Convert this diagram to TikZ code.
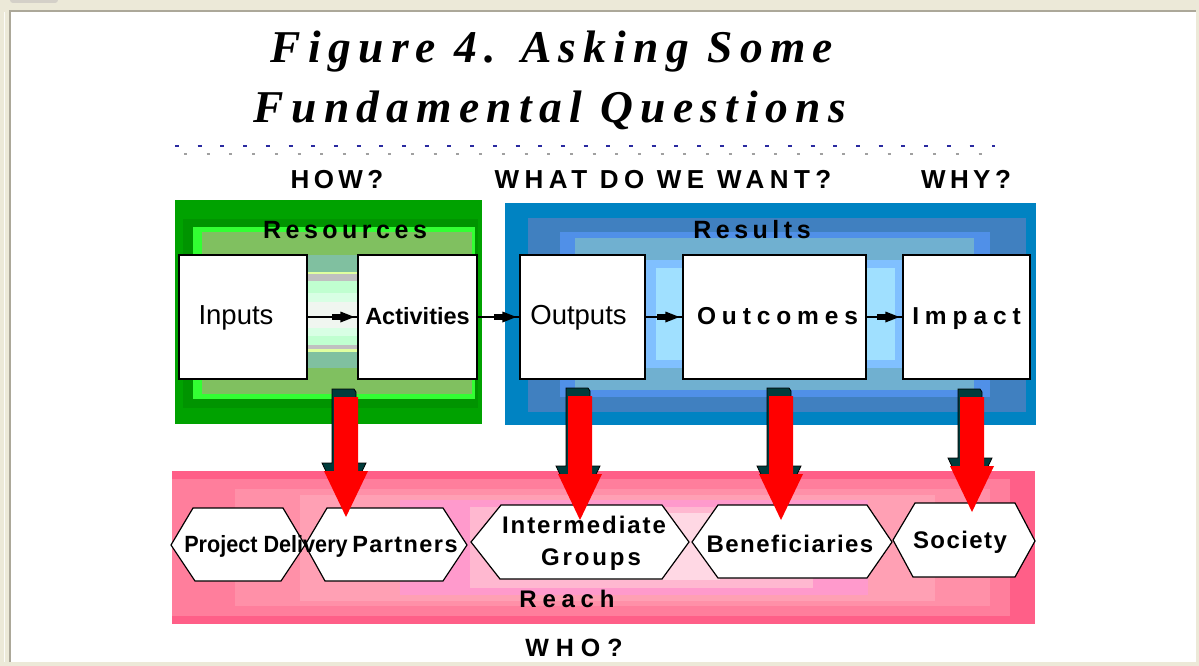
\documentclass[tikz,border=0pt]{standalone}
\usepackage{fontspec}
\setmainfont{Liberation Sans}
\newfontfamily\titlefont{Liberation Serif}
\usetikzlibrary{decorations.markings,calc}

% palette
\definecolor{framebg}{HTML}{ECE9D8}
\definecolor{framedark}{HTML}{ACA899}
\definecolor{tabgrey}{HTML}{D4D0C8}
\definecolor{dotblue}{HTML}{2A2AA0}
\definecolor{dotgrey}{HTML}{A0A0A0}
\definecolor{gA}{HTML}{00A200}
\definecolor{gB}{HTML}{009400}
\definecolor{gC}{HTML}{33FF33}
\definecolor{gD}{HTML}{80C060}
\definecolor{sTeal}{HTML}{80C0A0}
\definecolor{sYel}{HTML}{E0FFA0}
\definecolor{sGrey}{HTML}{C0C0C0}
\definecolor{sPale}{HTML}{C0FFD0}
\definecolor{sPaler}{HTML}{D8FFE4}
\definecolor{sWhite}{HTML}{F0F6F0}
\definecolor{bA}{HTML}{0083C2}
\definecolor{bB}{HTML}{4080C0}
\definecolor{bC}{HTML}{5090E8}
\definecolor{bD}{HTML}{70B0D0}
\definecolor{bE}{HTML}{80C0FF}
\definecolor{bF}{HTML}{A0E0FF}
\definecolor{pA}{HTML}{FF5F88}
\definecolor{pB}{HTML}{FF7E9C}
\definecolor{pC}{HTML}{FF90A8}
\definecolor{pD}{HTML}{FFA0B4}
\definecolor{pE}{HTML}{FF9ACC}
\definecolor{pF}{HTML}{FFB8D0}
\definecolor{pG}{HTML}{FFD8E4}
\definecolor{arrowred}{HTML}{FF0000}
\definecolor{arrowshadow}{HTML}{003C3C}

% font helper: size, series, letter spacing
\newcommand\fnt[3]{\fontsize{#1}{#1}\selectfont#2\addfontfeature{LetterSpace=#3}}

% big red down arrow with a dark extruded back, between two named coordinates
\newcommand\bigarrow[2]{%
  \filldraw[fill=arrowshadow, draw=black, line width=0.8pt] let \p1=(#1), \p2=(#2) in
    (\x1-14pt,\y1+8pt) -- (\x1+8pt,\y1+8pt) -- (\x1+10pt,\y1+5pt) -- (\x1+10pt,\y2+54pt)
    -- (\x1+20pt,\y2+54pt) -- (\x1-2pt,\y2+8pt) -- (\x1-24pt,\y2+54pt)
    -- (\x1-14pt,\y2+54pt) -- cycle;
  \fill[arrowred] let \p1=(#1), \p2=(#2) in
    (\x1-12pt,\y1) -- (\x1+12pt,\y1) -- (\x1+12pt,\y2+46pt) -- (\x1+22pt,\y2+46pt)
    -- (\x1,\y2) -- (\x1-22pt,\y2+46pt) -- (\x1-12pt,\y2+46pt) -- cycle;
}

\tikzset{
  txt/.style={inner sep=0pt, anchor=base},
  titletxt/.style={txt, font=\titlefont\fontsize{45.5}{45.5}\selectfont\bfseries\itshape\addfontfeature{LetterSpace=16}},
  qtxt/.style={txt, font=\fnt{26}{\bfseries}{17}},
  grouptxt/.style={txt, font=\fnt{25}{\bfseries}{18}},
  hextxt/.style={txt, font=\fnt{24}{\bfseries}{6}},
  stepbox/.style={draw=black, fill=white, line width=1.2pt, inner sep=0pt,
    minimum height=124pt, text height=14pt, text depth=0pt},
  plainlbl/.style={font=\fontsize{27.5}{27.5}\selectfont},
  boldlbl/.style={font=\fnt{23.5}{\bfseries}{0}},
  widelbl/.style={font=\fnt{24.5}{\bfseries}{24}},
  hexbox/.style={draw=black, fill=white, line width=1.2pt, line join=miter},
  flow/.style={draw=black, line width=1.3pt, postaction=decorate,
    decoration={markings, mark=at position -3pt with {
      \fill[black] (-22pt,-3pt) rectangle (-12pt,3pt);
      \fill[black] (-14pt,-5.5pt) -- (0pt,0pt) -- (-14pt,5.5pt) -- cycle;}}},
}

\begin{document}
\begin{tikzpicture}[x=1pt,y=-1pt]
\useasboundingbox (0,0) rectangle (1199,666);

% window frame
\fill[framebg] (0,0) rectangle (1199,666);
\fill[white] (10,11) rectangle (1196,662);
\draw[framedark, line width=2pt] (10,662) -- (10,11) -- (1196,11);
\draw[white!85!framebg, line width=1pt] (4,12) -- (4,662);
\fill[tabgrey, rounded corners=3pt] (10,-6) rectangle (58,3);

% title
\node[titletxt] (t1) at (552,63) {Figure 4. Asking Some};
\node[titletxt] (t2) at (550,123) {Fundamental Questions};

% dotted rule under the title
\draw[dotblue, line width=1.6pt, dash pattern=on 4pt off 18.7pt] (175,146) -- (995,146);
\draw[dotgrey, line width=1.4pt, dash pattern=on 3pt off 19.7pt] (184,154) -- (995,154);

% questions
\node[qtxt] (how) at (337,188) {HOW?};
\node[txt, font=\fnt{26}{\bfseries}{21}] (what) at (663,188) {WHAT DO WE WANT?};
\node[qtxt] (why) at (966,188) {WHY?};

% resources panel
\fill[gA] (175,200) rectangle (482,424);
\fill[gB] (183,219) rectangle (478,408);
\fill[gC] (193,227) rectangle (475,399);
\fill[gD] (202,232) rectangle (472,394);
\fill[sTeal] (307,255) rectangle (358,368);
\fill[sYel] (307,272) rectangle (358,352);
\fill[sGrey] (307,274) rectangle (358,349);
\fill[sPale] (307,281) rectangle (358,345);
\fill[sPaler] (307,293) rectangle (358,336);
\fill[sWhite] (307,302) rectangle (358,328);

% results panel
\fill[bA] (505,203) rectangle (1036,425);
\fill[bB] (528,218) rectangle (1026,412);
\fill[bC] (560,232) rectangle (990,397);
\fill[bD] (575,238) rectangle (974,390);
\fill[bE] (645,260) rectangle (903,368);
\fill[bF] (656,268) rectangle (895,360);

% reach band
\fill[pA] (172,471) rectangle (1035,624);
\fill[pB] (172,479) rectangle (1010,616);
\fill[pC] (235,489) rectangle (990,606);
\fill[pD] (300,495) rectangle (935,601);
\fill[pE] (400,500) rectangle (868,595);
\fill[pF] (470,507) rectangle (813,588);
\fill[pG] (540,513) rectangle (720,580);

% panel captions
\node[grouptxt] (res) at (345,238) {Resources};
\node[grouptxt] (rsl) at (752,238) {Results};
\node[txt, font=\fnt{24}{\bfseries}{24}] (reach) at (567,607) {Reach};
\node[txt, font=\fnt{25}{\bfseries}{28}] (who) at (574,656) {WHO?};

% chain of steps
\node[stepbox, plainlbl, minimum width=128pt] (inputs) at (243,317) {\hspace*{-14pt}Inputs};
\node[stepbox, boldlbl, minimum width=119pt] (activities) at (417.5,317) {Activities};
\node[stepbox, plainlbl, minimum width=125pt] (outputs) at (582.5,317) {\hspace*{-8pt}Outputs};
\node[stepbox, widelbl, minimum width=183pt] (outcomes) at (774.5,317) {\hspace*{6pt}Outcomes};
\node[stepbox, widelbl, minimum width=127pt] (impact) at (966.5,317) {Impact};

\draw[flow] (inputs) -- (activities);
\draw[flow] (activities) -- (outputs);
\draw[flow] (outputs) -- (outcomes);
\draw[flow] (outcomes) -- (impact);

% reach groups
\draw[hexbox] (171,545) -- (193,508) -- (283,508) -- (305,545) -- (281,581) -- (195,581) -- cycle;
\draw[hexbox] (305,545) -- (327,508) -- (443,508) -- (467,545) -- (443,581) -- (325,581) -- cycle;
\draw[hexbox] (471,542) -- (501,505) -- (662,505) -- (689,542) -- (662,579) -- (500,579) -- cycle;
\draw[hexbox] (692,542) -- (718,505) -- (867,505) -- (892,542) -- (867,578) -- (718,578) -- cycle;
\draw[hexbox] (893,540) -- (915,503) -- (1015,503) -- (1035,541) -- (1015,577) -- (913,577) -- cycle;

\node[txt, font=\fnt{23.5}{\bfseries}{0}, xscale=0.92] (pdel) at (266,552) {Project Delivery};
\node[txt, font=\fnt{23.5}{\bfseries}{6}] (ppart) at (405,552) {Partners};
\node[txt, font=\fnt{24}{\bfseries}{8}] (inter) at (584,533) {Intermediate};
\node[txt, font=\fnt{24}{\bfseries}{12}] (groups) at (591,565) {Groups};
\node[hextxt] (benef) at (790,552) {Beneficiaries};
\node[hextxt] (soc) at (960,548) {Society};

% arrows from the chain down to the groups they reach
\coordinate (r1) at (346,397); \coordinate (r1t) at (346,517);
\coordinate (r2) at (580,396); \coordinate (r2t) at (580,520);
\coordinate (r3) at (781,396); \coordinate (r3t) at (781,520);
\coordinate (r4) at (972,397); \coordinate (r4t) at (972,512);
\bigarrow{r1}{r1t}
\bigarrow{r2}{r2t}
\bigarrow{r3}{r3t}
\bigarrow{r4}{r4t}
\end{tikzpicture}
\end{document}
